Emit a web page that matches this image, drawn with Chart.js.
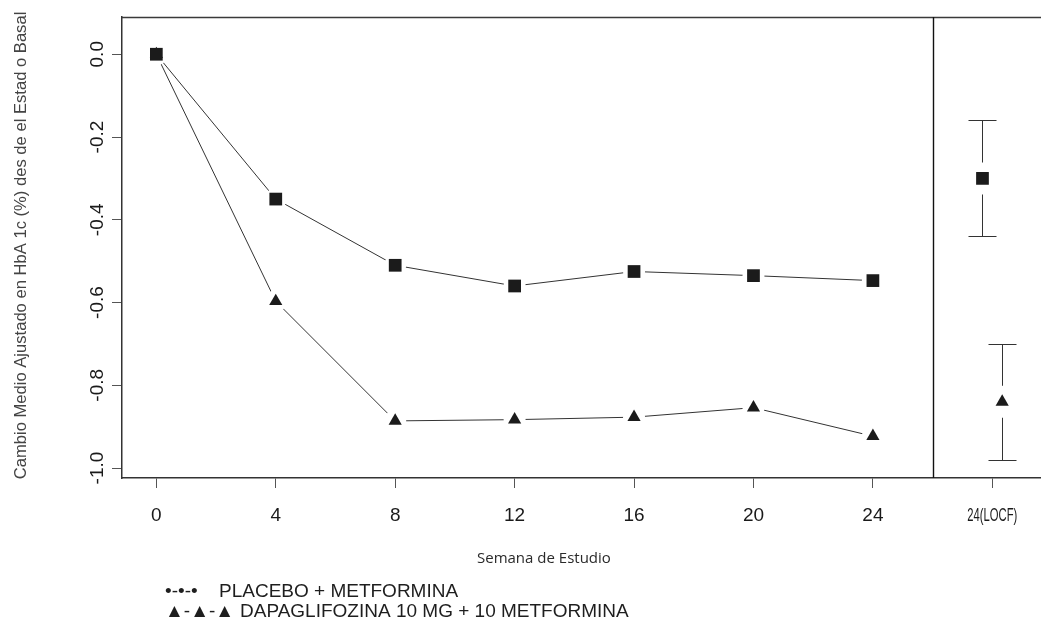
<!DOCTYPE html>
<html>
<head>
<meta charset="utf-8">
<script src="https://cdn.jsdelivr.net/npm/chart.js@4/dist/chart.umd.min.js"></script>
<style>
  html, body { margin: 0; padding: 0; background: #fff; }
  #wrap { width: 1041px; height: 621px; }
</style>
</head>
<body>
<div id="wrap"><canvas id="hba1c" width="1041" height="621"></canvas></div>
<script>
// Adjusted mean change in HbA1c (%) from baseline, by study week
const weeks = [0, 4, 8, 12, 16, 20, 24];
const placeboMetformina = [0.00, -0.35, -0.51, -0.56, -0.525, -0.535, -0.547];
const dapagliflozinaMetformina = [0.00, -0.597, -0.886, -0.883, -0.877, -0.854, -0.923];

// Week 24 (LOCF) estimates with confidence limits: [placebo, dapagliflozina]
const locfX = [27.67, 28.33];
const locfMean = [-0.30, -0.84];
const locfLower = [-0.44, -0.98];
const locfUpper = [-0.16, -0.70];
const locfDivider = 26;

const xTickValues = [0, 4, 8, 12, 16, 20, 24, 28];
const xTickLabels = ['0', '4', '8', '12', '16', '20', '24', '24(LOCF)'];
const yTickValues = [0, -0.2, -0.4, -0.6, -0.8, -1.0];
const yTickLabels = ['0.0', '-0.2', '-0.4', '-0.6', '-0.8', '-1.0'];

const yTitle = 'Cambio Medio Ajustado en HbA 1c (%) des de el Estad o Basal';
const xTitle = 'Semana de Estudio';
const legendSymbols = ['\u2022-\u2022-\u2022', '\u25B2-\u25B2-\u25B2'];
const legendTexts = ['PLACEBO + METFORMINA', 'DAPAGLIFOZINA 10 MG + 10 METFORMINA'];

const toPoints = (xs, ys) => xs.map((v, i) => ({ x: v, y: ys[i] }));
const placeboPts = toPoints(weeks, placeboMetformina);
const dapaPts = toPoints(weeks, dapagliflozinaMetformina);
const locfPts = toPoints(locfX, locfMean);

const MARK = '#1b1b1b';
const LINE = '#333333';
const SANS = '"Liberation Sans", Arial, sans-serif';

// Frame, LOCF divider, error bars and all hand-placed text
const decorations = {
  id: 'decorations',
  beforeDatasetsDraw(chart) {
    const { ctx, chartArea: a, scales: { x, y } } = chart;
    ctx.save();
    ctx.strokeStyle = '#3a3a3a';
    ctx.lineWidth = 1.5;
    ctx.beginPath();
    ctx.moveTo(a.left, a.top + 0.5);
    ctx.lineTo(a.right, a.top + 0.5);
    ctx.stroke();

    const dx = Math.round(x.getPixelForValue(locfDivider)) + 0.5;
    ctx.strokeStyle = '#111';
    ctx.lineWidth = 1.4;
    ctx.beginPath();
    ctx.moveTo(dx, a.top);
    ctx.lineTo(dx, a.bottom);
    ctx.stroke();

    ctx.strokeStyle = LINE;
    ctx.lineWidth = 1;
    locfX.forEach((xv, i) => {
      const px = Math.round(x.getPixelForValue(xv)) + 0.5;
      const yl = Math.round(y.getPixelForValue(locfLower[i])) + 0.5;
      const yu = Math.round(y.getPixelForValue(locfUpper[i])) + 0.5;
      ctx.beginPath();
      ctx.moveTo(px, yu); ctx.lineTo(px, yl);
      ctx.moveTo(px - 14, yu); ctx.lineTo(px + 14, yu);
      ctx.moveTo(px - 14, yl); ctx.lineTo(px + 14, yl);
      ctx.stroke();
    });
    ctx.restore();
  },
  afterDraw(chart) {
    const { ctx, chartArea: a, scales: { x, y } } = chart;
    ctx.save();
    ctx.fillStyle = '#1a1a1a';
    ctx.font = '19px ' + SANS;
    ctx.textBaseline = 'alphabetic';
    ctx.textAlign = 'center';

    // y tick labels, parallel to the axis
    yTickValues.forEach((v, i) => {
      ctx.save();
      ctx.translate(a.left - 19, y.getPixelForValue(v));
      ctx.rotate(-Math.PI / 2);
      ctx.fillText(yTickLabels[i], 0, 0);
      ctx.restore();
    });

    // x tick labels; long labels are squeezed horizontally
    xTickValues.forEach((v, i) => {
      const w = ctx.measureText(xTickLabels[i]).width;
      const k = w > 52 ? 50 / w : 1;
      ctx.save();
      ctx.translate(x.getPixelForValue(v), a.bottom + 43);
      ctx.scale(k, 1);
      ctx.fillText(xTickLabels[i], 0, 0);
      ctx.restore();
    });

    // axis titles
    ctx.fillStyle = '#444';
    ctx.font = '16.6px ' + SANS;
    ctx.save();
    ctx.translate(21, (a.top + a.bottom) / 2 - 2);
    ctx.rotate(-Math.PI / 2);
    ctx.textBaseline = 'middle';
    ctx.fillText(yTitle, 0, 0);
    ctx.restore();

    ctx.fillStyle = '#2a2a2a';
    ctx.font = '15px "Open Sans", "Noto Sans", sans-serif';
    ctx.textAlign = 'left';
    ctx.fillText(xTitle, 477, a.bottom + 85);

    // legend
    ctx.fillStyle = '#1e1e1e';
    ctx.font = '19px ' + SANS;
    ctx.fillText(legendSymbols[0], 165, a.bottom + 119);
    ctx.fillText(legendTexts[0], 219, a.bottom + 119);
    ctx.fillText(legendSymbols[1], 165, a.bottom + 139);
    const sw = ctx.measureText(legendSymbols[1]).width;
    ctx.fillText(legendTexts[1], Math.max(240, 165 + sw + 4), a.bottom + 139);
    ctx.restore();
  }
};

const axisCommon = {
  grid: { display: true, drawOnChartArea: false, drawTicks: true, tickLength: 10, color: '#555', lineWidth: 1 },
  border: { display: true, color: '#333', width: 1.5 },
  ticks: { display: false }
};

new Chart(document.getElementById('hba1c'), {
  type: 'line',
  data: {
    datasets: [
      { data: placeboPts, showLine: true, borderColor: LINE, borderWidth: 1, pointRadius: 0, order: 5 },
      { data: dapaPts, showLine: true, borderColor: LINE, borderWidth: 1, pointRadius: 0, order: 5 },
      { data: placeboPts.concat(dapaPts), showLine: false, pointRadius: 11, pointStyle: 'circle',
        pointBackgroundColor: '#fff', pointBorderWidth: 0, order: 4 },
      { data: locfPts, showLine: false, pointRadius: 16, pointStyle: 'circle',
        pointBackgroundColor: '#fff', pointBorderWidth: 0, order: 3 },
      { data: dapaPts.concat([locfPts[1]]), showLine: false, pointStyle: 'triangle', pointRadius: 7.6,
        pointBackgroundColor: MARK, pointBorderWidth: 0, order: 2 },
      { data: placeboPts.concat([locfPts[0]]), showLine: false, pointStyle: 'rect', pointRadius: 9,
        pointBackgroundColor: MARK, pointBorderWidth: 0, order: 1 }
    ]
  },
  options: {
    responsive: false,
    animation: false,
    events: [],
    devicePixelRatio: 1,
    layout: { autoPadding: false, padding: { top: 17, right: 0, bottom: 0, left: 0 } },
    plugins: { legend: { display: false }, tooltip: { enabled: false } },
    scales: {
      x: Object.assign({}, axisCommon, {
        type: 'linear', min: -1.15, max: 29.63,
        afterBuildTicks: s => { s.ticks = xTickValues.map(v => ({ value: v })); },
        afterFit: s => { s.height = 143; }
      }),
      y: Object.assign({}, axisCommon, {
        type: 'linear', min: -1.024, max: 0.09,
        afterBuildTicks: s => { s.ticks = yTickValues.map(v => ({ value: v })); },
        afterFit: s => { s.width = 122; }
      })
    }
  },
  plugins: [decorations]
});
</script>
</body>
</html>
